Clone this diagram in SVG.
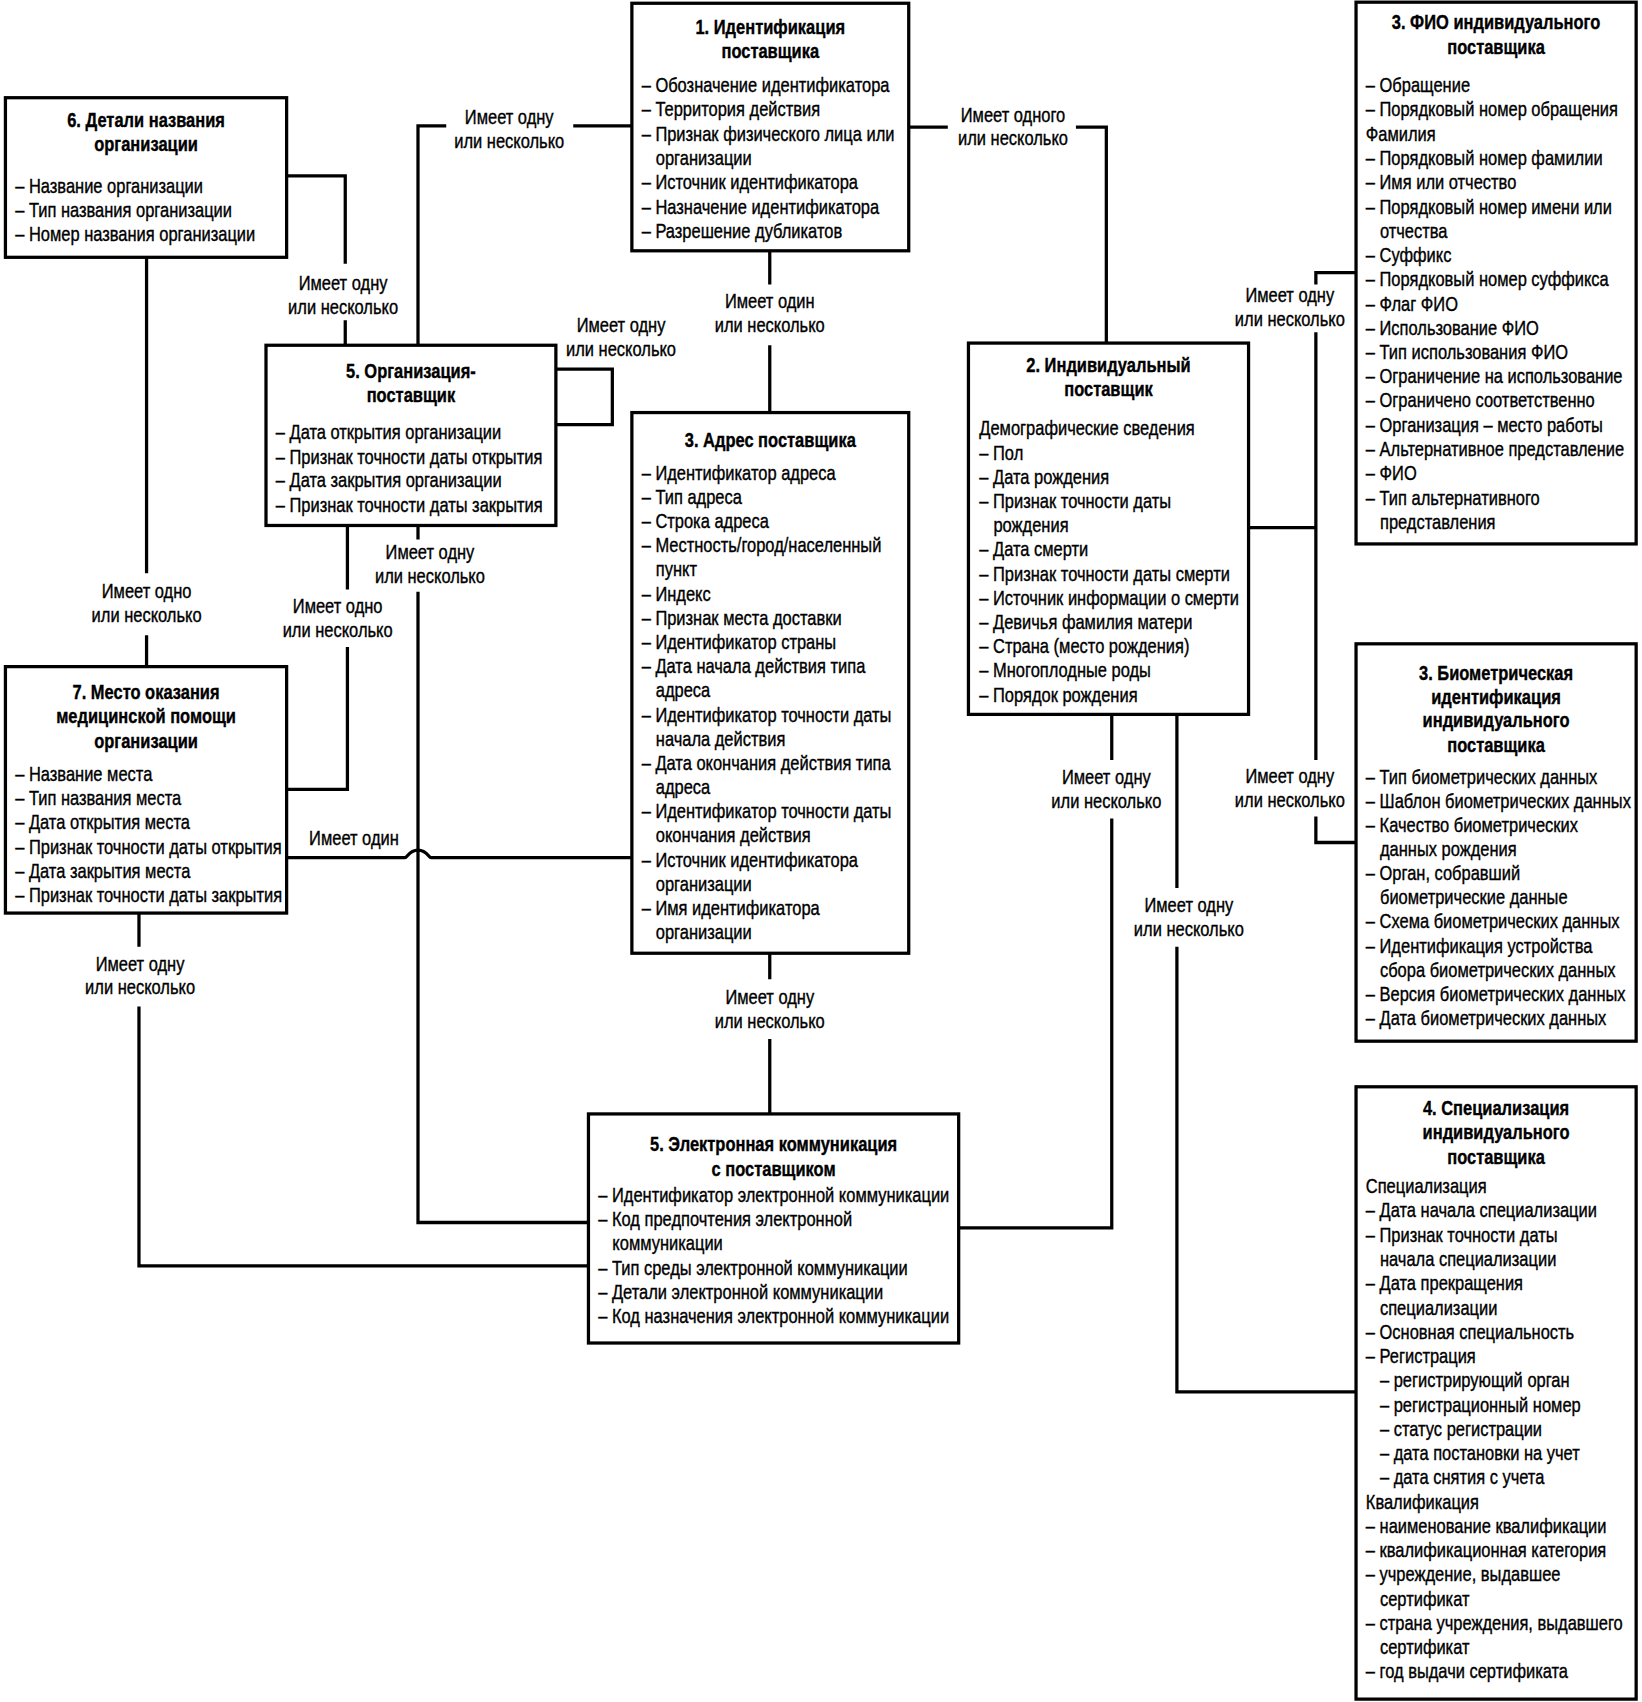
<svg xmlns="http://www.w3.org/2000/svg" width="1642" height="1702" viewBox="0 0 1642 1702">
<style>
.box{fill:#fff;stroke:#000;stroke-width:3}
.ln{fill:none;stroke:#000;stroke-width:3}
text{font-family:"Liberation Sans","Arial",sans-serif;font-size:18.5px;fill:#000;stroke:#000;stroke-width:0.35px}
.t{font-weight:bold;text-anchor:middle}
.lb{text-anchor:middle}
</style>
<rect width="1642" height="1702" fill="#fff"/>
<g transform="scale(1.0857)">
<g id="connectors">
<path class="ln" d="M582,116 H528 M411,116 H385 V318"/>
<path class="ln" d="M385,484 V497 M385,545 V1126 H542"/>
<path class="ln" d="M264,162 H318 V243 M318,295 V318"/>
<path class="ln" d="M512,340 H564 V391 H512"/>
<path class="ln" d="M709,231 V262 M709,318 V380"/>
<path class="ln" d="M837,117 H873 M991,117 H1019 V316"/>
<path class="ln" d="M1150,486 H1212 M1249,251 H1212 V262 M1212,306 V700 M1212,752 V776 H1249"/>
<path class="ln" d="M1024,658 V700 M1024,754 V1131 H883"/>
<path class="ln" d="M1084,658 V818 M1084,872 V1282 H1249"/>
<path class="ln" d="M709,878 V902 M709,957 V1026"/>
<path class="ln" d="M135,237 V528 M135,585 V614"/>
<path class="ln" d="M320,484 V543 M320,596 V727 H264"/>
<path class="ln" d="M264,790 H373 C375,790 377,783 385,783 C393,783 395,790 397,790 H582"/>
<path class="ln" d="M128,841 V872 M128,927 V1166 H542"/>
<g transform="translate(469 0) scale(.82 1)"><text class="lb" x="0" y="114">Имеет одну</text><text class="lb" x="0" y="136">или несколько</text></g>
<g transform="translate(396 0) scale(.82 1)"><text class="lb" x="0" y="515">Имеет одну</text><text class="lb" x="0" y="537">или несколько</text></g>
<g transform="translate(316 0) scale(.82 1)"><text class="lb" x="0" y="267">Имеет одну</text><text class="lb" x="0" y="289">или несколько</text></g>
<g transform="translate(572 0) scale(.82 1)"><text class="lb" x="0" y="306">Имеет одну</text><text class="lb" x="0" y="328">или несколько</text></g>
<g transform="translate(709 0) scale(.82 1)"><text class="lb" x="0" y="284">Имеет один</text><text class="lb" x="0" y="306">или несколько</text></g>
<g transform="translate(933 0) scale(.82 1)"><text class="lb" x="0" y="112">Имеет одного</text><text class="lb" x="0" y="134">или несколько</text></g>
<g transform="translate(1188 0) scale(.82 1)"><text class="lb" x="0" y="278">Имеет одну</text><text class="lb" x="0" y="300">или несколько</text><text class="lb" x="0" y="721">Имеет одну</text><text class="lb" x="0" y="743">или несколько</text></g>
<g transform="translate(1019 0) scale(.82 1)"><text class="lb" x="0" y="722">Имеет одну</text><text class="lb" x="0" y="744">или несколько</text></g>
<g transform="translate(1095 0) scale(.82 1)"><text class="lb" x="0" y="840">Имеет одну</text><text class="lb" x="0" y="862">или несколько</text></g>
<g transform="translate(709 0) scale(.82 1)"><text class="lb" x="0" y="925">Имеет одну</text><text class="lb" x="0" y="947">или несколько</text></g>
<g transform="translate(135 0) scale(.82 1)"><text class="lb" x="0" y="551">Имеет одно</text><text class="lb" x="0" y="573">или несколько</text></g>
<g transform="translate(311 0) scale(.82 1)"><text class="lb" x="0" y="565">Имеет одно</text><text class="lb" x="0" y="587">или несколько</text></g>
<g transform="translate(326 0) scale(.82 1)"><text class="lb" x="0" y="778">Имеет один</text></g>
<g transform="translate(129 0) scale(.82 1)"><text class="lb" x="0" y="894">Имеет одну</text><text class="lb" x="0" y="916">или несколько</text></g>
</g>

<g id="node-org-name">
<rect class="box" x="5" y="90" width="259" height="147"/>
<g transform="translate(14 0) scale(.82 1)">
<text class="t" x="147" y="117">6. Детали названия</text>
<text class="t" x="147" y="139">организации</text>
<text x="0" y="178">– Название организации</text>
<text x="0" y="200">– Тип названия организации</text>
<text x="0" y="222">– Номер названия организации</text>
</g>
</g>

<g id="node-provider-id">
<rect class="box" x="582" y="3" width="255" height="228"/>
<g transform="translate(591 0) scale(.82 1)">
<text class="t" x="144.5" y="31">1. Идентификация</text>
<text class="t" x="144.5" y="53">поставщика</text>
<text x="0" y="85">– Обозначение идентификатора</text>
<text x="0" y="107">– Территория действия</text>
<text x="0" y="130">– Признак физического лица или</text>
<text x="15.9" y="152">организации</text>
<text x="0" y="174">– Источник идентификатора</text>
<text x="0" y="197">– Назначение идентификатора</text>
<text x="0" y="219">– Разрешение дубликатов</text>
</g>
</g>

<g id="node-fio">
<rect class="box" x="1249" y="2" width="258" height="499"/>
<g transform="translate(1258 0) scale(.82 1)">
<text class="t" x="146.3" y="27">3. ФИО индивидуального</text>
<text class="t" x="146.3" y="50">поставщика</text>
<text x="0" y="85">– Обращение</text>
<text x="0" y="107.3">– Порядковый номер обращения</text>
<text x="0" y="129.7">Фамилия</text>
<text x="0" y="152">– Порядковый номер фамилии</text>
<text x="0" y="174.3">– Имя или отчество</text>
<text x="0" y="196.7">– Порядковый номер имени или</text>
<text x="15.9" y="219">отчества</text>
<text x="0" y="241.3">– Суффикс</text>
<text x="0" y="263.7">– Порядковый номер суффикса</text>
<text x="0" y="286">– Флаг ФИО</text>
<text x="0" y="308.3">– Использование ФИО</text>
<text x="0" y="330.7">– Тип использования ФИО</text>
<text x="0" y="353">– Ограничение на использование</text>
<text x="0" y="375.3">– Ограничено соответственно</text>
<text x="0" y="397.7">– Организация – место работы</text>
<text x="0" y="420">– Альтернативное представление</text>
<text x="0" y="442.3">– ФИО</text>
<text x="0" y="464.7">– Тип альтернативного</text>
<text x="15.9" y="487">представления</text>
</g>
</g>

<g id="node-org-provider">
<rect class="box" x="245" y="318" width="267" height="166"/>
<g transform="translate(254 0) scale(.82 1)">
<text class="t" x="151.8" y="348">5. Организация-</text>
<text class="t" x="151.8" y="370">поставщик</text>
<text x="0" y="404">– Дата открытия организации</text>
<text x="0" y="427">– Признак точности даты открытия</text>
<text x="0" y="449">– Дата закрытия организации</text>
<text x="0" y="472">– Признак точности даты закрытия</text>
</g>
</g>

<g id="node-address">
<rect class="box" x="582" y="380" width="255" height="498"/>
<g transform="translate(591 0) scale(.82 1)">
<text class="t" x="144.5" y="412">3. Адрес поставщика</text>
<text x="0" y="442">– Идентификатор адреса</text>
<text x="0" y="464.3">– Тип адреса</text>
<text x="0" y="486.5">– Строка адреса</text>
<text x="0" y="508.8">– Местность/город/населенный</text>
<text x="15.9" y="531">пункт</text>
<text x="0" y="553.3">– Индекс</text>
<text x="0" y="575.6">– Признак места доставки</text>
<text x="0" y="597.8">– Идентификатор страны</text>
<text x="0" y="620.1">– Дата начала действия типа</text>
<text x="15.9" y="642.3">адреса</text>
<text x="0" y="664.6">– Идентификатор точности даты</text>
<text x="15.9" y="686.9">начала действия</text>
<text x="0" y="709.1">– Дата окончания действия типа</text>
<text x="15.9" y="731.4">адреса</text>
<text x="0" y="753.6">– Идентификатор точности даты</text>
<text x="15.9" y="775.9">окончания действия</text>
<text x="0" y="798.2">– Источник идентификатора</text>
<text x="15.9" y="820.4">организации</text>
<text x="0" y="842.7">– Имя идентификатора</text>
<text x="15.9" y="864.9">организации</text>
</g>
</g>

<g id="node-individual">
<rect class="box" x="892" y="316" width="258" height="342"/>
<g transform="translate(902 0) scale(.82 1)">
<text class="t" x="145.1" y="343">2. Индивидуальный</text>
<text class="t" x="145.1" y="365">поставщик</text>
<text x="0" y="401">Демографические сведения</text>
<text x="0" y="423.3">– Пол</text>
<text x="0" y="445.6">– Дата рождения</text>
<text x="0" y="467.9">– Признак точности даты</text>
<text x="15.9" y="490.2">рождения</text>
<text x="0" y="512.5">– Дата смерти</text>
<text x="0" y="534.8">– Признак точности даты смерти</text>
<text x="0" y="557.1">– Источник информации о смерти</text>
<text x="0" y="579.4">– Девичья фамилия матери</text>
<text x="0" y="601.7">– Страна (место рождения)</text>
<text x="0" y="624">– Многоплодные роды</text>
<text x="0" y="646.3">– Порядок рождения</text>
</g>
</g>

<g id="node-biometric">
<rect class="box" x="1249" y="593" width="258" height="366"/>
<g transform="translate(1258 0) scale(.82 1)">
<text class="t" x="146.3" y="626">3. Биометрическая</text>
<text class="t" x="146.3" y="648">идентификация</text>
<text class="t" x="146.3" y="670">индивидуального</text>
<text class="t" x="146.3" y="693">поставщика</text>
<text x="0" y="722">– Тип биометрических данных</text>
<text x="0" y="744.2">– Шаблон биометрических данных</text>
<text x="0" y="766.4">– Качество биометрических</text>
<text x="15.9" y="788.6">данных рождения</text>
<text x="0" y="810.8">– Орган, собравший</text>
<text x="15.9" y="833">биометрические данные</text>
<text x="0" y="855.2">– Схема биометрических данных</text>
<text x="0" y="877.4">– Идентификация устройства</text>
<text x="15.9" y="899.6">сбора биометрических данных</text>
<text x="0" y="921.8">– Версия биометрических данных</text>
<text x="0" y="944">– Дата биометрических данных</text>
</g>
</g>

<g id="node-care-site">
<rect class="box" x="5" y="614" width="259" height="227"/>
<g transform="translate(14 0) scale(.82 1)">
<text class="t" x="147" y="644">7. Место оказания</text>
<text class="t" x="147" y="666">медицинской помощи</text>
<text class="t" x="147" y="689">организации</text>
<text x="0" y="719">– Название места</text>
<text x="0" y="741.4">– Тип названия места</text>
<text x="0" y="763.8">– Дата открытия места</text>
<text x="0" y="786.2">– Признак точности даты открытия</text>
<text x="0" y="808.6">– Дата закрытия места</text>
<text x="0" y="831">– Признак точности даты закрытия</text>
</g>
</g>

<g id="node-ecomm">
<rect class="box" x="542" y="1026" width="341" height="211"/>
<g transform="translate(551 0) scale(.82 1)">
<text class="t" x="197" y="1060">5. Электронная коммуникация</text>
<text class="t" x="197" y="1083">с поставщиком</text>
<text x="0" y="1107">– Идентификатор электронной коммуникации</text>
<text x="0" y="1129.4">– Код предпочтения электронной</text>
<text x="15.9" y="1151.8">коммуникации</text>
<text x="0" y="1174.2">– Тип среды электронной коммуникации</text>
<text x="0" y="1196.6">– Детали электронной коммуникации</text>
<text x="0" y="1219">– Код назначения электронной коммуникации</text>
</g>
</g>

<g id="node-specialization">
<rect class="box" x="1249" y="1001" width="258" height="564"/>
<g transform="translate(1258 0) scale(.82 1)">
<text class="t" x="146.3" y="1027">4. Специализация</text>
<text class="t" x="146.3" y="1049">индивидуального</text>
<text class="t" x="146.3" y="1072">поставщика</text>
<text x="0" y="1099">Специализация</text>
<text x="0" y="1121.4">– Дата начала специализации</text>
<text x="0" y="1143.7">– Признак точности даты</text>
<text x="15.9" y="1166.1">начала специализации</text>
<text x="0" y="1188.4">– Дата прекращения</text>
<text x="15.9" y="1210.8">специализации</text>
<text x="0" y="1233.1">– Основная специальность</text>
<text x="0" y="1255.5">– Регистрация</text>
<text x="15.9" y="1277.8">– регистрирующий орган</text>
<text x="15.9" y="1300.2">– регистрационный номер</text>
<text x="15.9" y="1322.5">– статус регистрации</text>
<text x="15.9" y="1344.9">– дата постановки на учет</text>
<text x="15.9" y="1367.2">– дата снятия с учета</text>
<text x="0" y="1389.6">Квалификация</text>
<text x="0" y="1411.9">– наименование квалификации</text>
<text x="0" y="1434.3">– квалификационная категория</text>
<text x="0" y="1456.6">– учреждение, выдавшее</text>
<text x="15.9" y="1479">сертификат</text>
<text x="0" y="1501.3">– страна учреждения, выдавшего</text>
<text x="15.9" y="1523.7">сертификат</text>
<text x="0" y="1546">– год выдачи сертификата</text>
</g>
</g>
</g>
</svg>
